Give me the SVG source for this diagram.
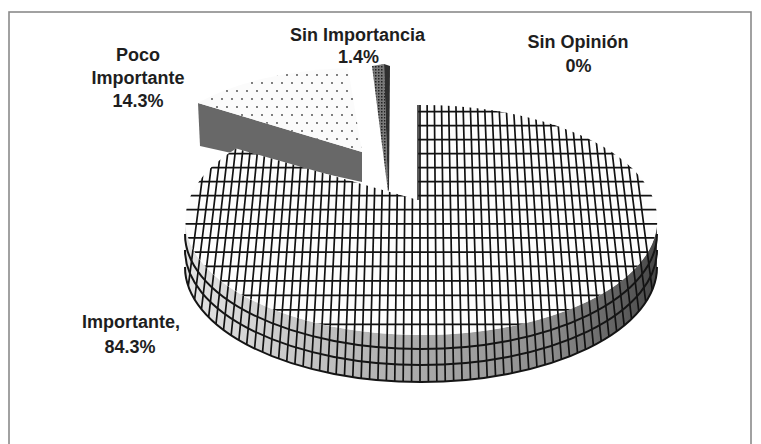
<svg xmlns="http://www.w3.org/2000/svg" width="761" height="444" viewBox="0 0 761 444">
<style>
.lbl{font-family:"Liberation Sans",Arial,sans-serif;font-weight:bold;font-size:18px;fill:#1e1e1e;text-anchor:middle}
.grid{fill:none;stroke:#111;stroke-width:1.7}
.band{fill:none;stroke:#151515;stroke-width:2}
</style>
<defs>
<pattern id="dots" width="10" height="16" patternUnits="userSpaceOnUse">
<rect width="10" height="16" fill="#fbfbfb"/>
<circle cx="2" cy="3" r="0.9" fill="#444"/>
<circle cx="7" cy="11" r="0.9" fill="#444"/>
</pattern>
<pattern id="fine" width="3" height="3" patternUnits="userSpaceOnUse">
<rect width="3" height="3" fill="#7a7a7a"/>
<rect width="1.5" height="1.5" fill="#222"/>
</pattern>
<linearGradient id="sideGrad" x1="185" y1="0" x2="657" y2="0" gradientUnits="userSpaceOnUse">
<stop offset="0" stop-color="#e4e4e4"/>
<stop offset="0.4" stop-color="#b4b4b4"/>
<stop offset="0.78" stop-color="#8c8c8c"/>
<stop offset="1" stop-color="#474747"/>
</linearGradient>
<clipPath id="topClip">
<path d="M418,200 L418,105 A236,115 0 1 1 236.3,148.6 Z"/>
</clipPath>
<clipPath id="bigClip">
<path d="M418,200 L418,105 A236,115 0 1 1 236.3,148.6 Z"/>
<path d="M185,220 A236,115 0 0 0 657,220 L657,267 A236,115 0 0 1 185,267 Z"/>
</clipPath>
</defs>
<rect x="0" y="0" width="761" height="444" fill="#fff"/>
<rect id="frame" x="9" y="12" width="742" height="445" fill="none" stroke="#8a8a8a" stroke-width="1.6"/>

<g id="slice-poco">
<path d="M198,103 L362,152 L362,182 L200,146 Z" fill="#686868"/>
<path d="M362,152 L198,103 A202,84 0 0 1 348,68 Z" fill="url(#dots)"/>
</g>

<g id="slice-sin-importancia">
<path d="M372,66 L384,64 L388,192 Z" fill="url(#fine)"/>
<path d="M384,64 L390,66 L389,189 L388,192 Z" fill="#2e2e2e"/>
</g>

<g id="slice-importante">
<path d="M185,220 A236,115 0 0 0 657,220 L657,267 A236,115 0 0 1 185,267 Z" fill="url(#sideGrad)"/>
<path d="M418,200 L418,105 A236,115 0 1 1 236.3,148.6 Z" fill="#fdfdfd"/>
<g clip-path="url(#bigClip)">
<path class="grid" d="M173.5,400L213.1,95M182,400L220.2,95M190.5,400L227.3,95M199,400L234.5,95M207.5,400L241.6,95M216,400L248.7,95M224.5,400L255.9,95M233,400L263,95M241.5,400L270.1,95M250,400L277.3,95M258.5,400L284.4,95M267,400L291.6,95M275.5,400L298.7,95M284,400L305.8,95M292.5,400L313,95M301,400L320.1,95M309.5,400L327.2,95M318,400L334.4,95M326.5,400L341.5,95M335,400L348.6,95M343.5,400L355.8,95M352,400L362.9,95M360.5,400L370,95M369,400L377.2,95M377.5,400L384.3,95M386,400L391.5,95M394.5,400L398.6,95M403,400L405.7,95M411.5,400L412.9,95M420,400L420,95M428.5,400L427.1,95M437,400L434.3,95M445.5,400L441.4,95M454,400L448.5,95M462.5,400L455.7,95M471,400L462.8,95M479.5,400L470,95M488,400L477.1,95M496.5,400L484.2,95M505,400L491.4,95M513.5,400L498.5,95M522,400L505.6,95M530.5,400L512.8,95M539,400L519.9,95M547.5,400L527,95M556,400L534.2,95M564.5,400L541.3,95M573,400L548.4,95M581.5,400L555.6,95M590,400L562.7,95M598.5,400L569.9,95M607,400L577,95M615.5,400L584.1,95M624,400L591.3,95M632.5,400L598.4,95M641,400L605.5,95M649.5,400L612.7,95M658,400L619.8,95M666.5,400L626.9,95"/>
</g>
<g clip-path="url(#topClip)">
<path class="grid" d="M180,111.7H665M180,125.6H665M180,139.6H665M180,153.6H665M180,167.6H665M180,181.6H665M180,195.6H665M180,209.7H665M180,223.8H665M180,237.9H665M180,252.1H665M180,266.4H665M180,280.8H665M180,295.3H665M180,309.8H665M180,324.4H665M180,339H665"/>
</g>
<path class="band" d="M185,234 A236,115 0 0 0 657,234"/>
<path class="band" d="M185,250 A236,115 0 0 0 657,250"/>
<path class="band" d="M185,267 A236,115 0 0 0 657,267" stroke-width="1.2" stroke="#555"/>
<line x1="418" y1="105" x2="418" y2="200" stroke="#222" stroke-width="1.5"/>
</g>

<g id="connectors"></g>

<g id="labels">
<text class="lbl" x="357.5" y="40.5">Sin Importancia</text>
<text class="lbl" x="358.5" y="63">1.4%</text>
<text class="lbl" x="578" y="48">Sin Opinión</text>
<text class="lbl" x="578.5" y="71.5">0%</text>
<text class="lbl" x="138" y="60.5">Poco</text>
<text class="lbl" x="138" y="83.5">Importante</text>
<text class="lbl" x="138" y="106.5">14.3%</text>
<text class="lbl" x="131" y="328">Importante,</text>
<text class="lbl" x="130" y="353">84.3%</text>
</g>
</svg>
